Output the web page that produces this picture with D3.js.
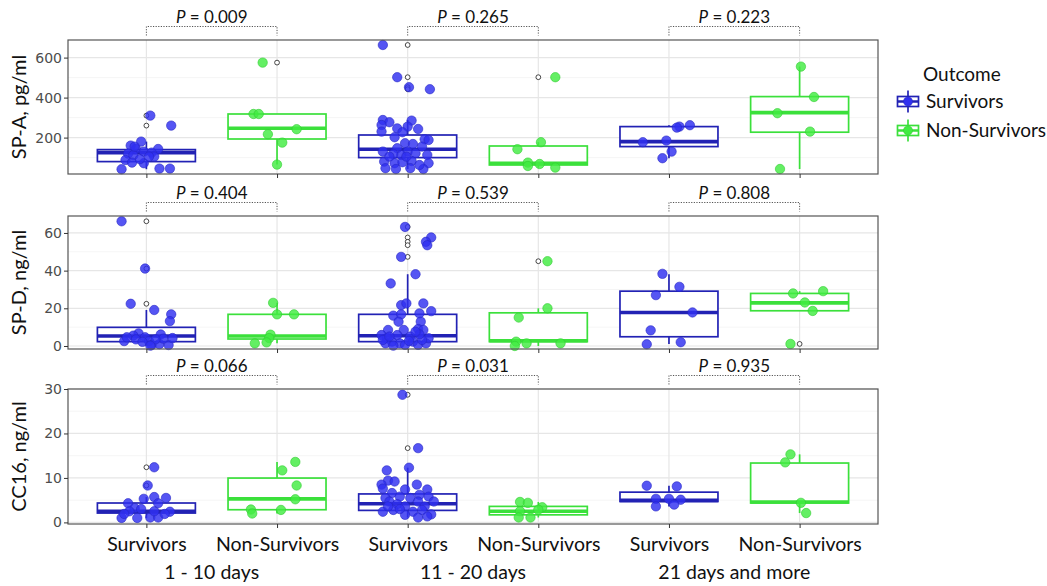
<!DOCTYPE html>
<html>
<head>
<meta charset="utf-8">
<script src="https://cdn.jsdelivr.net/npm/d3@7"></script>
<style>
  body { margin: 0; background: #fff; }
  text { font-family: Lato, "Open Sans", sans-serif; }
</style>
</head>
<body>
<svg id="chart" width="1047" height="586"></svg>
<script>
/********** Initialisation *********/
var svg = d3.select("#chart");

/************* Data **************/
var groups = ["1 - 10 days", "11 - 20 days", "21 days and more"];
var outcomes = ["Survivors", "Non-Survivors"];
var markers = ["SP-A, pg/ml", "SP-D, ng/ml", "CC16, ng/ml"];

var pSPA = ["0.009", "0.265", "0.223"];
var pSPD = ["0.404", "0.539", "0.808"];
var pCC16 = ["0.066", "0.031", "0.935"];

// visible y range and tick labels of each panel
var spaDomain = [18, 688], spaTicks = [200, 400, 600];
var spdDomain = [-1.6, 69], spdTicks = [0, 20, 40, 60];
var cc16Domain = [-0.36, 30], cc16Ticks = [0, 10, 20, 30];

// boxes: [lower whisker, q1, median, q3, upper whisker]
// order: S 1-10, NS 1-10, S 11-20, NS 11-20, S 21+, NS 21+
var spaBoxes = [[42, 80, 125, 140, 180], [65, 193, 247, 318, 318], [43, 100, 142, 213, 288],
                [50, 63, 72, 158, 177], [97, 155, 180, 255, 262], [43, 227, 325, 405, 555]];
var spdBoxes = [[0.2, 2.3, 5.3, 9.9, 19.1], [1.4, 3.7, 5.3, 16.8, 22.9], [0.2, 2.3, 5.4, 16.8, 38.1],
                [0, 2.3, 2.8, 17.6, 20], [1.1, 4.9, 17.8, 29.1, 38.1], [18.6, 18.7, 22.9, 27.9, 29.1]];
var cc16Boxes = [[1.0, 2.1, 2.5, 4.36, 5.7], [2.0, 2.85, 5.3, 9.97, 13.6], [1.1, 2.7, 4.2, 6.4, 12.3],
                 [1.1, 1.7, 2.5, 3.6, 4.6], [3.6, 4.7, 4.95, 6.8, 8.25], [2.1, 4.36, 4.6, 13.35, 15.3]];

var spaOutliers = [[310, 260], [575], [663, 502, 452, 442], [502], [], []];
var spdOutliers = [[66.2, 41.1, 22.4], [], [63.2, 57.6, 55.3, 53.5, 47.3], [45], [], [1.1]];
var cc16Outliers = [[12.4, 8.3], [], [28.7, 16.7], [], [], []];

// jittered points: [jitter (hundredths of a category step), value]
var spaPoints = [
  [[3,310],[19,260],[-4,180],[-12,160],[-8,143],[9,143],[-2,130],[4,125],[-14,120],[6,105],[-10,112],
   [-16,88],[-11,75],[-2,72],[-5,92],[-19,42],[10,45],[18,45],[2,105],[-9,155]],
  [[-11,575],[-18,318],[-14,318],[15,242],[-7,217],[4,175],[0,65]],
  [[-19,663],[-8,502],[1,452],[17,442],[-19,288],[-14,277],[3,285],[-20,263],[0,255],[8,243],[-8,246],
   [-20,230],[-4,227],[-10,202],[13,192],[16,188],[-2,172],[4,168],[-19,130],[-8,147],[11,155],[0,130],
   [6,122],[-5,113],[-11,118],[15,113],[-18,80],[-10,72],[-4,77],[3,83],[16,72],[-17,47],[-9,43],[2,47],
   [12,43],[9,63],[-14,105],[-1,105]],
  [[13,502],[2,177],[-16,142],[-8,75],[1,68],[-8,58],[13,50]],
  [[16,262],[8,255],[6,250],[-20,177],[-2,185],[2,130],[-5,97]],
  [[1,555],[11,403],[-17,322],[8,230],[-15,43]]
];
var spdPoints = [
  [[-19,66.2],[-1,41.1],[-12,22.4],[6,19.1],[19,16.8],[18,13.2],[-6,6.7],[-10,5.5],[11,6.1],[-1,4.6],
   [-17,2.6],[-8,3.5],[2,2.6],[4,0.5],[10,1.0],[17,0.5],[13,3.9],[20,4.2],[-3,2.2],[7,3.5],[-15,4.6],[3,0.2]],
  [[-3,22.9],[0,16.8],[13,16.8],[-5,6.0],[-6,4.2],[-17,1.4],[-8,1.9]],
  [[-2,63.2],[18,57.6],[14,55.3],[15,53.5],[-5,47.3],[6,38.1],[-13,33.2],[-5,21.7],[-1,22.6],[12,22.6],
   [18,18.5],[9,17.3],[-11,16.1],[-5,16.8],[-7,12.9],[10,12.9],[8,9.0],[12,8.5],[-15,8.5],[-3,8.5],
   [-20,5.8],[-16,4.1],[-12,2.3],[-8,5.8],[-6,1.4],[2,5.0],[4,2.3],[8,0.6],[14,1.4],[16,4.1],[-17,1.4],
   [-2,0.6],[11,3.2],[-11,0.2],[-19,3.2],[9,6.2],[1,2.7],[-14,5.0],[6,7.6]],
  [[7,45],[7,20],[-15,15.1],[-17,2.3],[-9,1.4],[17,1.4],[-18,0]],
  [[-5,38.3],[8,31.4],[-10,27],[18,17.8],[-14,8.3],[-17,0.9],[9,2]],
  [[18,29.1],[-5,27.9],[4,23.1],[10,18.6],[-7,1.1]]
];
var cc16Points = [
  [[6,12.4],[1,8.3],[-14,4.3],[-2,5.3],[6,5.7],[15,5.5],[9,4.3],[-9,3.2],[-4,3.0],[18,2.4],[-19,1.0],
   [-7,1.0],[3,1.1],[9,1.1],[-13,2.5],[6,2.5],[-17,1.9],[14,1.9]],
  [[14,13.6],[4,11.7],[15,8.3],[14,5.2],[-20,2.9],[-19,2.0],[3,2.8]],
  [[-4,28.7],[8,16.7],[1,12.3],[-16,11.7],[-15,9.4],[-10,9.2],[-20,8.5],[7,8.5],[-19,7.6],[-2,7.4],
   [15,7.4],[-12,6.6],[9,6.2],[-6,5.8],[16,5.8],[-17,5.5],[2,5.5],[-14,4.7],[8,4.7],[20,4.7],[-8,4.1],
   [-2,3.6],[13,3.6],[-19,2.4],[-11,2.8],[4,2.4],[18,1.8],[-2,1.7],[8,1.1],[15,1.35],[-6,3.0],[-15,3.6],[11,2.8]],
  [[-14,4.6],[-8,4.4],[3,3.4],[-14,2.5],[0,2.85],[-15,1.1],[-6,1.1]],
  [[-17,8.25],[6,8.1],[-10,5.3],[0,5.3],[9,5.1],[-10,3.6],[4,4.0]],
  [[-7,15.3],[-11,13.5],[1,4.4],[5,2.1]]
];

/*********** Layout *************/
var plotLeft = 68, plotRight = 878;
var panelTops = [40, 216, 389];
var panelBottoms = [174, 349, 524];

var panels = [
  {title: markers[0], domain: spaDomain, ticks: spaTicks, p: pSPA, boxes: spaBoxes, outliers: spaOutliers, points: spaPoints},
  {title: markers[1], domain: spdDomain, ticks: spdTicks, p: pSPD, boxes: spdBoxes, outliers: spdOutliers, points: spdPoints},
  {title: markers[2], domain: cc16Domain, ticks: cc16Ticks, p: pCC16, boxes: cc16Boxes, outliers: cc16Outliers, points: cc16Points}
];

var keys = [];
groups.forEach(function(g) { outcomes.forEach(function(o) { keys.push(g + "|" + o); }); });

var x = d3.scalePoint().domain(keys).range([plotLeft, plotRight]).padding(0.6);
var step = x.step();
var boxW = step * 0.75;

var lineColor = d3.scaleOrdinal().domain(outcomes).range(["#2222b4", "#3be03b"]);
var pointColor = d3.scaleOrdinal().domain(outcomes).range(["#3030f0", "#42ec42"]);
var pointStroke = d3.scaleOrdinal().domain(outcomes).range(["#2626c4", "#30cc30"]);

svg.append("rect").attr("width", 1047).attr("height", 586).attr("fill", "#fff");

/********** Panels ***********/
panels.forEach(function(p, pi) {
  var top = panelTops[pi], bottom = panelBottoms[pi];
  var y = d3.scaleLinear().domain(p.domain).range([bottom, top]);
  var g = svg.append("g");

  // grid
  var half = (p.ticks[1] - p.ticks[0]) / 2;
  var minor = [];
  for (var v = p.ticks[0] - half; v <= p.domain[1]; v += 2 * half) {
    if (v >= p.domain[0]) minor.push(v);
  }
  g.selectAll(".minor").data(minor).enter().append("line")
    .attr("x1", plotLeft).attr("x2", plotRight)
    .attr("y1", function(d) { return y(d); }).attr("y2", function(d) { return y(d); })
    .attr("stroke", "#f2f2f2").attr("stroke-width", 0.8);
  g.selectAll(".major").data(p.ticks).enter().append("line")
    .attr("x1", plotLeft).attr("x2", plotRight)
    .attr("y1", function(d) { return y(d); }).attr("y2", function(d) { return y(d); })
    .attr("stroke", "#e6e6e6").attr("stroke-width", 1.2);
  g.selectAll(".vgrid").data(keys).enter().append("line")
    .attr("x1", function(d) { return x(d); }).attr("x2", function(d) { return x(d); })
    .attr("y1", top).attr("y2", bottom)
    .attr("stroke", "#e6e6e6").attr("stroke-width", 1.2);

  // boxes
  var boxData = keys.map(function(k, i) {
    return {key: k, outcome: k.split("|")[1], s: p.boxes[i], out: p.outliers[i], pts: p.points[i]};
  });
  var bg = g.selectAll(".box").data(boxData).enter().append("g");
  bg.append("line")
    .attr("x1", function(d) { return x(d.key); }).attr("x2", function(d) { return x(d.key); })
    .attr("y1", function(d) { return y(d.s[3]); }).attr("y2", function(d) { return y(d.s[4]); })
    .attr("stroke", function(d) { return lineColor(d.outcome); }).attr("stroke-width", 1.7);
  bg.append("line")
    .attr("x1", function(d) { return x(d.key); }).attr("x2", function(d) { return x(d.key); })
    .attr("y1", function(d) { return y(d.s[1]); }).attr("y2", function(d) { return y(d.s[0]); })
    .attr("stroke", function(d) { return lineColor(d.outcome); }).attr("stroke-width", 1.7);
  bg.append("rect")
    .attr("x", function(d) { return x(d.key) - boxW / 2; })
    .attr("width", boxW)
    .attr("y", function(d) { return y(d.s[3]); })
    .attr("height", function(d) { return y(d.s[1]) - y(d.s[3]); })
    .attr("fill", "#fff")
    .attr("stroke", function(d) { return lineColor(d.outcome); }).attr("stroke-width", 1.7);
  bg.append("line")
    .attr("x1", function(d) { return x(d.key) - boxW / 2; }).attr("x2", function(d) { return x(d.key) + boxW / 2; })
    .attr("y1", function(d) { return y(d.s[2]); }).attr("y2", function(d) { return y(d.s[2]); })
    .attr("stroke", function(d) { return lineColor(d.outcome); }).attr("stroke-width", 3.6);

  // outliers
  bg.selectAll(".out").data(function(d) { return d.out.map(function(v) { return {key: d.key, v: v}; }); })
    .enter().append("circle")
    .attr("cx", function(d) { return x(d.key); })
    .attr("cy", function(d) { return y(d.v); })
    .attr("r", 2.4).attr("fill", "#fff").attr("stroke", "#333").attr("stroke-width", 0.9);

  // jittered points
  bg.selectAll(".pt").data(function(d) { return d.pts.map(function(q) { return {key: d.key, o: d.outcome, j: q[0], v: q[1]}; }); })
    .enter().append("circle")
    .attr("cx", function(d) { return x(d.key) + d.j / 100 * step; })
    .attr("cy", function(d) { return y(d.v); })
    .attr("r", 4.7)
    .attr("fill", function(d) { return pointColor(d.o); })
    .attr("fill-opacity", 0.82)
    .attr("stroke", function(d) { return pointStroke(d.o); })
    .attr("stroke-width", 0.6);

  // border
  g.append("rect").attr("x", plotLeft).attr("y", top)
    .attr("width", plotRight - plotLeft).attr("height", bottom - top)
    .attr("fill", "none").attr("stroke", "#555").attr("stroke-width", 1.2);

  // axes
  var ya = g.append("g").attr("transform", "translate(" + plotLeft + ",0)")
    .call(d3.axisLeft(y).tickValues(p.ticks).tickSize(4).tickPadding(2));
  ya.select(".domain").remove();
  ya.selectAll("line").attr("stroke", "#333");
  ya.selectAll("text").style("font-family", "'DejaVu Sans', sans-serif").style("font-size", "14px").attr("fill", "#4d4d4d");

  var last = pi === panels.length - 1;
  var xa = g.append("g").attr("transform", "translate(0," + bottom + ")")
    .call(d3.axisBottom(x).tickSize(4).tickPadding(9)
      .tickFormat(function(d) { return last ? d.split("|")[1] : ""; }));
  xa.select(".domain").remove();
  xa.selectAll("line").attr("stroke", "#333");
  xa.selectAll("text").style("font-size", "19.5px").attr("fill", "#111");

  // y title
  svg.append("text")
    .attr("transform", "translate(26," + ((top + bottom) / 2) + ") rotate(-90)")
    .attr("text-anchor", "middle")
    .style("font-size", "20px").attr("fill", "#111")
    .text(p.title);

  // p-value brackets
  groups.forEach(function(gr, gi) {
    var x1 = x(gr + "|" + outcomes[0]), x2 = x(gr + "|" + outcomes[1]);
    var by = top - 13.5;
    svg.append("path")
      .attr("d", "M" + x1 + "," + (top - 4.5) + "V" + by + "H" + x2 + "V" + (top - 4.5))
      .attr("fill", "none").attr("stroke", "#555").attr("stroke-width", 1)
      .attr("stroke-dasharray", "1.2,1.4");
    var t = svg.append("text")
      .attr("x", (x1 + x2) / 2).attr("y", by - 3.5)
      .attr("text-anchor", "middle")
      .style("font-size", "17px").attr("fill", "#111");
    t.append("tspan").style("font-style", "italic").text("P");
    t.append("tspan").text(" = " + p.p[gi]);
  });
});

// group labels
groups.forEach(function(gr) {
  var cx = (x(gr + "|" + outcomes[0]) + x(gr + "|" + outcomes[1])) / 2;
  svg.append("text").attr("x", cx).attr("y", 578.5)
    .attr("text-anchor", "middle").style("font-size", "19.5px").attr("fill", "#111")
    .text(gr);
});

/******** Legend *******/
var legend = svg.append("g").attr("transform", "translate(897,0)");
legend.append("text").attr("x", 26).attr("y", 81)
  .style("font-size", "19px").attr("fill", "#111").text("Outcome");
var keyY = [101.5, 130.5];
outcomes.forEach(function(o, i) {
  var k = legend.append("g").attr("transform", "translate(0," + keyY[i] + ")");
  k.append("line").attr("x1", 11).attr("x2", 11).attr("y1", -11).attr("y2", 11)
    .attr("stroke", lineColor(o)).attr("stroke-width", 1.7);
  k.append("rect").attr("x", 0.5).attr("y", -5).attr("width", 21).attr("height", 10)
    .attr("fill", "#fff").attr("stroke", lineColor(o)).attr("stroke-width", 1.7);
  k.append("line").attr("x1", 0.5).attr("x2", 21.5).attr("y1", 0).attr("y2", 0)
    .attr("stroke", lineColor(o)).attr("stroke-width", 2.5);
  k.append("circle").attr("cx", 11).attr("cy", 0).attr("r", 4.5)
    .attr("fill", pointColor(o)).attr("stroke", pointStroke(o)).attr("stroke-width", 0.6);
  k.append("text").attr("x", 29).attr("y", 0).attr("dy", "0.35em")
    .style("font-size", "19px").attr("fill", "#111").text(o);
});
</script>
</body>
</html>
